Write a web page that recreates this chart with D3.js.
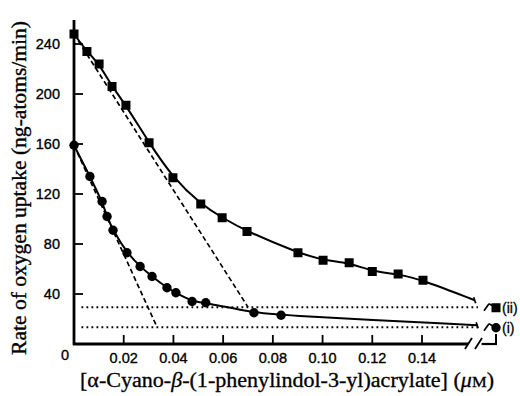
<!DOCTYPE html>
<html><head><meta charset="utf-8">
<script src="https://cdn.jsdelivr.net/npm/d3@7"></script>
<style>body{margin:0;background:#fff}svg{display:block}</style>
</head><body>
<svg id="c" width="520" height="396"></svg>
<script>
// ---- data ----
const concII = [0, 0.0052, 0.0101, 0.0153, 0.0209, 0.0302, 0.0398, 0.051, 0.0596, 0.0696, 0.0901, 0.1002, 0.1107, 0.12, 0.1304, 0.1404];
const rateII = [248, 234, 224, 206, 191, 161, 133, 112, 101, 90, 73, 67, 65, 58, 56, 51];
const concI  = [0, 0.0064, 0.0113, 0.0133, 0.0157, 0.0213, 0.0266, 0.0314, 0.0374, 0.041, 0.0475, 0.053, 0.0724, 0.0833];
const rateI  = [159, 134, 114, 102, 91, 73, 62, 54, 45, 41, 34, 33, 25, 23];
const lineEndConc = [0.1612, 0.1622];   // where solid curves stop at the break (ii, i)
const lineEndRate = [35, 15];
const endRate = [29, 13];               // end values beyond the axis break (ii, i)
const endLabels = ["(ii)", "(i)"];
const plateau = [29.5, 13.5];           // dotted horizontal levels (ii, i)
const tangentConcEnd = [0.070, 0.0334]; // dashed initial-slope lines (ii, i)
const xTicks = [0.02, 0.04, 0.06, 0.08, 0.10, 0.12, 0.14];
const yTicks = [40, 80, 120, 160, 200, 240];

const svg = d3.select("#c");
const x = d3.scaleLinear().domain([0, 0.14]).range([74, 422]);
const y = d3.scaleLinear().domain([0, 240]).range([344, 44]);
const xb = d3.scaleLinear().domain([0, 1]).range([478, 496]); // segment beyond break
const axisEnd = 0.1585;

const sans = "'Liberation Sans', Arial, sans-serif";
const serif = "'Liberation Serif', 'Times New Roman', serif";

// axes lines
const g = svg.append("g").attr("stroke", "#000").attr("fill", "none");
g.append("line").attr("x1", x(0)).attr("x2", x(0)).attr("y1", y(0) + 1).attr("y2", 20).attr("stroke-width", 2.8);
g.append("line").attr("x1", x(0) - 1).attr("x2", x(axisEnd)).attr("y1", y(0)).attr("y2", y(0)).attr("stroke-width", 2.8);
g.append("line").attr("x1", xb(0.2)).attr("x2", xb(1) + 1).attr("y1", y(0)).attr("y2", y(0)).attr("stroke-width", 2.2);
g.append("line").attr("x1", xb(1)).attr("x2", xb(1)).attr("y1", y(0)).attr("y2", y(0) - 10).attr("stroke-width", 2);
// axis break slashes
[x(axisEnd), xb(0)].forEach(px => {
  g.append("line").attr("x1", px - 3).attr("x2", px + 4).attr("y1", y(0) + 5).attr("y2", y(0) - 6).attr("stroke-width", 1.8);
});

// ticks (inside)
yTicks.forEach(v => {
  g.append("line").attr("x1", x(0)).attr("x2", x(0) + 9).attr("y1", y(v)).attr("y2", y(v)).attr("stroke-width", 1.8);
});
xTicks.forEach(v => {
  g.append("line").attr("x1", x(v)).attr("x2", x(v)).attr("y1", y(0)).attr("y2", y(0) - 9).attr("stroke-width", 1.8);
});

// tick labels
const t = svg.append("g").attr("font-family", sans).attr("font-size", 14.5).attr("fill", "#000")
  .attr("stroke", "#000").attr("stroke-width", 0.35);
yTicks.forEach(v => {
  t.append("text").attr("x", x(0) - 14).attr("y", y(v) + 5).attr("text-anchor", "end").text(v);
});
xTicks.forEach(v => {
  t.append("text").attr("x", x(v)).attr("y", y(0) + 19).attr("text-anchor", "middle").text(d3.format(".2f")(v));
});
t.append("text").attr("x", x(0) - 9).attr("y", y(0) + 16).attr("text-anchor", "middle").text("0");

// dotted plateau lines
plateau.forEach(v => {
  svg.append("line").attr("x1", x(0.003)).attr("x2", x(0.1625)).attr("y1", y(v)).attr("y2", y(v))
    .attr("stroke", "#000").attr("stroke-width", 2).attr("stroke-dasharray", "1.8,3.2");
});

// dashed tangents
[[rateII[0], plateau[0], tangentConcEnd[0]], [rateI[0], plateau[1], tangentConcEnd[1]]].forEach(([r0, r1, c1]) => {
  svg.append("line").attr("x1", x(0)).attr("y1", y(r0)).attr("x2", x(c1)).attr("y2", y(r1))
    .attr("stroke", "#000").attr("stroke-width", 1.7).attr("stroke-dasharray", "5,3");
});

// solid fitted curves
const line = d3.line().x(d => x(d[0])).y(d => y(d[1])).curve(d3.curveBasis);
const ptsII = concII.map((c, i) => [c, rateII[i]]).concat([[lineEndConc[0], lineEndRate[0]]]);
const ptsI = concI.map((c, i) => [c, rateI[i]]).concat([[lineEndConc[1], lineEndRate[1]]]);
[ptsII, ptsI].forEach(p => {
  svg.append("path").attr("d", line(p)).attr("fill", "none").attr("stroke", "#000").attr("stroke-width", 2);
});

// break marks on the curves
[0, 1].forEach(i => {
  const px = x(lineEndConc[i]), py = y(lineEndRate[i]);
  svg.append("line").attr("x1", px - 1).attr("y1", py - 3).attr("x2", px + 1).attr("y2", py + 3).attr("stroke", "#000").attr("stroke-width", 1.7);
  const sx = xb(0.5), sy = y(endRate[i]);
  svg.append("line").attr("x1", sx - 3).attr("y1", sy + 3).attr("x2", sx + 2).attr("y2", sy - 4).attr("stroke", "#000").attr("stroke-width", 1.7);
  svg.append("line").attr("x1", sx + 2).attr("y1", sy - 4).attr("x2", xb(1)).attr("y2", sy).attr("stroke", "#000").attr("stroke-width", 1.5);
});

// markers
svg.append("g").selectAll("rect").data(concII.map((c, i) => [c, rateII[i]])).join("rect")
  .attr("x", d => x(d[0]) - 4.5).attr("y", d => y(d[1]) - 4.5).attr("width", 9).attr("height", 9).attr("fill", "#000");
svg.append("g").selectAll("circle").data(concI.map((c, i) => [c, rateI[i]])).join("circle")
  .attr("cx", d => x(d[0])).attr("cy", d => y(d[1])).attr("r", 4.7).attr("fill", "#000");
// end points beyond break
svg.append("rect").attr("x", xb(1) - 4.5).attr("y", y(endRate[0]) - 4.5).attr("width", 9).attr("height", 9).attr("fill", "#000");
svg.append("circle").attr("cx", xb(1)).attr("cy", y(endRate[1])).attr("r", 4.7).attr("fill", "#000");
endLabels.forEach((l, i) => {
  svg.append("text").attr("x", xb(1) + 6).attr("y", y(endRate[i]) + 5).attr("font-family", sans)
    .attr("font-size", 14).attr("stroke", "#000").attr("stroke-width", 0.3).text(l);
});

// axis titles
svg.append("text").attr("transform", "translate(26,188) rotate(-90)").attr("text-anchor", "middle")
  .attr("font-family", serif).attr("font-size", 20).attr("stroke", "#000").attr("stroke-width", 0.35)
  .attr("textLength", 334).attr("lengthAdjust", "spacingAndGlyphs")
  .text("Rate of oxygen uptake (ng-atoms/min)");
const xl = svg.append("text").attr("x", 287).attr("y", 387).attr("text-anchor", "middle")
  .attr("font-family", serif).attr("font-size", 20).attr("stroke", "#000").attr("stroke-width", 0.3)
  .attr("textLength", 414).attr("lengthAdjust", "spacingAndGlyphs");
xl.append("tspan").text("[α-Cyano-");
xl.append("tspan").attr("font-style", "italic").text("β");
xl.append("tspan").text("-(1-phenylindol-3-yl)acrylate] (");
xl.append("tspan").attr("font-style", "italic").text("μ");
xl.append("tspan").attr("font-size", 15).text("M");
xl.append("tspan").text(")");
</script>
</body></html>
